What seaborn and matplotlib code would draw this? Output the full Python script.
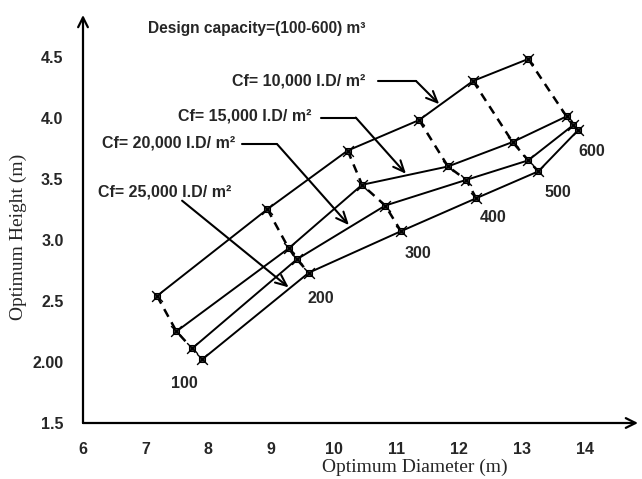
import matplotlib
matplotlib.use("Agg")
import matplotlib.pyplot as plt
import seaborn as sns
import pandas as pd

# data
capacity = [100, 200, 300, 400, 500, 600]
cf_values = [10000, 15000, 20000, 25000]
d10 = [7.18, 8.94, 10.22, 11.36, 12.22, 13.10]
h10 = [2.54, 3.25, 3.73, 3.98, 4.30, 4.48]
d15 = [7.49, 9.28, 10.45, 11.82, 12.85, 13.71]
h15 = [2.25, 2.93, 3.45, 3.60, 3.80, 4.01]
d20 = [7.74, 9.41, 10.82, 12.11, 13.10, 13.82]
h20 = [2.11, 2.84, 3.28, 3.49, 3.65, 3.94]
d25 = [7.90, 9.60, 11.07, 12.27, 13.26, 13.90]
h25 = [2.02, 2.73, 3.07, 3.34, 3.56, 3.90]

x_ticks = [6, 7, 8, 9, 10, 11, 12, 13, 14]
y_ticks = [1.5, 2.0, 2.5, 3.0, 3.5, 4.0, 4.5]
y_tick_labels = ["1.5", "2.00", "2.5", "3.0", "3.5", "4.0", "4.5"]
cf_labels = ["Cf= 10,000 I.D/ m²", "Cf= 15,000 I.D/ m²",
             "Cf= 20,000 I.D/ m²", "Cf= 25,000 I.D/ m²"]

rows = []
for cf, ds, hs in zip(cf_values, [d10, d15, d20, d25], [h10, h15, h20, h25]):
    for cap, d, h in zip(capacity, ds, hs):
        rows.append({"cf": cf, "capacity": cap, "diameter": d, "height": h})
df = pd.DataFrame(rows)

sns.set_style("white")
plt.rcParams["font.family"] = ["Liberation Sans", "DejaVu Sans"]

fig = plt.figure(figsize=(6.42, 4.79), dpi=100)
ax = fig.add_axes([83 / 642, 56 / 479, 555 / 642, 408 / 479])

# constant-Cf curves (solid)
sns.lineplot(data=df, x="diameter", y="height", units="cf", estimator=None,
             sort=False, color="black", lw=1.4, ax=ax)
# constant-capacity curves (dashed)
sns.lineplot(data=df.sort_values(["capacity", "cf"]), x="diameter", y="height",
             units="capacity", estimator=None, sort=False, color="black",
             lw=1.8, dashes=False, linestyle=(0, (3.5, 2.5)), ax=ax)
# markers
sns.scatterplot(data=df, x="diameter", y="height", marker="s", s=14,
                color="#333333", edgecolor="black", linewidth=0.8, ax=ax, zorder=5)
sns.scatterplot(data=df, x="diameter", y="height", marker="x", s=60,
                color="black", linewidth=1.0, ax=ax, zorder=6)

ax.set_xlim(6, 14.85)
ax.set_ylim(1.5, 4.84)
ax.set_xticks(x_ticks)
ax.set_xticklabels([str(t) for t in x_ticks])
ax.set_yticks(y_ticks)
ax.set_yticklabels(y_tick_labels)
for lab in ax.get_xticklabels() + ax.get_yticklabels():
    lab.set_fontweight("bold")
    lab.set_fontsize(11.5)
ax.tick_params(direction="inout", length=12, width=1.5, color="black", pad=8)

for s in ax.spines.values():
    s.set_visible(False)
ax.annotate("", xy=(1.0, 0), xytext=(0, 0), xycoords="axes fraction",
            arrowprops=dict(arrowstyle="->, head_length=0.7, head_width=0.35", lw=1.6, color="black",
                            shrinkA=0, shrinkB=0))
ax.annotate("", xy=(0, 1.0), xytext=(0, 0), xycoords="axes fraction",
            arrowprops=dict(arrowstyle="->, head_length=0.7, head_width=0.35", lw=1.6, color="black",
                            shrinkA=0, shrinkB=0))

ax.set_xlabel("Optimum Diameter (m)", family="Liberation Serif", fontsize=14)
ax.set_ylabel("Optimum Height (m)", family="Liberation Serif", fontsize=14)
ax.xaxis.set_label_coords(0.597, -0.088)
ax.yaxis.set_label_coords(-0.1, 0.456)

ax.text(7.04, 4.73, "Design capacity=(100-600) m³", fontsize=11.2, fontweight="bold", va="center")

# Cf labels with leader arrows
label_pos = [(8.38, 4.30), (7.52, 4.01), (6.30, 3.79), (6.24, 3.39)]
corners = [(10.70, 11.31, 4.30), (9.79, 10.35, 4.00), (8.54, 9.10, 3.78), None]
tips = [(11.68, 4.11), (11.15, 3.54), (10.24, 3.12), (9.28, 2.61)]
arrow = dict(arrowstyle="->, head_length=0.8, head_width=0.35", lw=1.5, color="black",
             shrinkA=0, shrinkB=0)
for lab, pos, cor, tip in zip(cf_labels, label_pos, corners, tips):
    ax.text(pos[0], pos[1], lab, fontsize=11.5, fontweight="bold", va="center")
    if cor is not None:
        ax.plot([cor[0], cor[1]], [cor[2], cor[2]], color="black", lw=1.5)
        ax.annotate("", xy=tip, xytext=(cor[1], cor[2]), arrowprops=arrow)
    else:
        ax.annotate("", xy=tip, xytext=(7.58, 3.32), arrowprops=arrow)

# capacity labels
cap_pos = [(7.62, 1.82), (9.79, 2.52), (11.34, 2.89), (12.54, 3.18), (13.58, 3.39), (14.11, 3.72)]
for cap, (x, y) in zip(capacity, cap_pos):
    ax.text(x, y, str(cap), fontsize=11.5, fontweight="bold", ha="center", va="center")

fig.savefig("out.png", dpi=100)
plt.close("all")
